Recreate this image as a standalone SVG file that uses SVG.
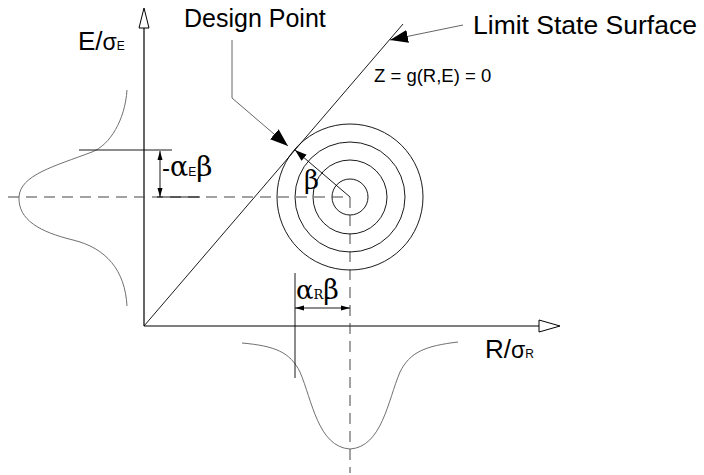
<svg xmlns="http://www.w3.org/2000/svg" width="704" height="475" viewBox="0 0 704 475">
<style>
.ln{stroke:#000;stroke-width:1.2;fill:none}
.thin{stroke:#000;stroke-width:0.9;fill:none}
.dash{stroke:#444;stroke-width:1;fill:none;stroke-dasharray:11 7}
.dist{stroke:#707070;stroke-width:1;fill:none}
.lead{stroke:#555;stroke-width:0.9;fill:none}
.t{font-family:"Liberation Sans",Arial,sans-serif;fill:#000}
.g{font-family:"DejaVu Serif","Liberation Serif",serif}
</style>
<defs>
<marker id="big" markerUnits="userSpaceOnUse" markerWidth="20" markerHeight="14" refX="18" refY="6.5" orient="auto">
<path d="M0,0 L18,6.5 L0,13 Z" fill="#000"/>
</marker>
<marker id="mid" markerUnits="userSpaceOnUse" markerWidth="14" markerHeight="10" refX="12" refY="4" orient="auto">
<path d="M0,0 L12,4 L0,8 Z" fill="#000"/>
</marker>
<marker id="sm" markerUnits="userSpaceOnUse" markerWidth="10" markerHeight="8" refX="9" refY="3" orient="auto">
<path d="M0,0.5 L9,3 L0,5.5 Z" fill="#000"/>
</marker>
</defs>

<g id="axes">
<line class="ln" x1="144" y1="326" x2="144" y2="28"/>
<path d="M144,8 L149,28 L139,28 Z" fill="#fff" stroke="#000" stroke-width="1"/>
<line class="ln" x1="144" y1="326" x2="539" y2="326"/>
<path d="M560,326 L539,332 L539,320 Z" fill="#fff" stroke="#000" stroke-width="1"/>
<text class="t" x="78" y="50" font-size="26">E/<tspan font-size="23">σ</tspan><tspan font-size="12">E</tspan></text>
<text class="t" x="485" y="358" font-size="26">R/<tspan font-size="23">σ</tspan><tspan font-size="12">R</tspan></text>
</g>

<g id="limit-state">
<line class="thin" x1="144" y1="326" x2="403" y2="24"/>
<text class="t" x="374" y="82" font-size="18.5">Z = g(R,E) = 0</text>
</g>

<g id="circles">
<circle class="thin" cx="350" cy="197" r="18"/>
<circle class="thin" cx="350" cy="197" r="37"/>
<circle class="thin" cx="350" cy="197" r="55"/>
<circle class="thin" cx="350" cy="197" r="73"/>
</g>

<g id="distributions">
<path class="dist" d="M127,90 C125,120 110,145 92,152 C55,166 20,175 19,197 C18,220 40,232 73,240 C106,248 125,270 127,306"/>
<path class="dist" d="M242,343 C275,346 290,352 300,372 C312,400 318,447 350,449 C382,447 388,400 400,372 C410,352 425,346 458,342"/>
</g>

<g id="guides">
<line class="dash" x1="8" y1="197" x2="350" y2="197"/>
<line class="dash" x1="350" y1="197" x2="350" y2="473"/>
<line class="thin" x1="157" y1="197" x2="200" y2="197"/>
<line class="thin" x1="79" y1="150" x2="172" y2="150"/>
<line class="thin" x1="295" y1="273" x2="295" y2="378"/>
</g>

<g id="connectors">
<line class="thin" x1="160" y1="174" x2="160" y2="151" marker-end="url(#sm)"/>
<line class="thin" x1="160" y1="174" x2="160" y2="197" marker-end="url(#sm)"/>
<line class="thin" x1="322" y1="308" x2="295" y2="308" marker-end="url(#sm)"/>
<line class="thin" x1="322" y1="308" x2="350" y2="308" marker-end="url(#sm)"/>
<line class="thin" x1="350" y1="197" x2="295" y2="150" marker-end="url(#mid)"/>
<polyline class="lead" points="232,40 232,98 288,146" marker-end="url(#big)"/>
<line class="lead" x1="463" y1="25" x2="390" y2="40" marker-end="url(#big)"/>
</g>

<g id="labels">
<text class="t" x="184" y="27" font-size="25">Design Point</text>
<text class="t" x="473" y="34" font-size="26.5">Limit State Surface</text>
<text class="t" x="162" y="176" font-size="24">-<tspan class="g" font-size="27">α</tspan><tspan font-size="12">E</tspan><tspan class="g" font-size="28">β</tspan></text>
<text class="t" x="296" y="299"><tspan class="g" font-size="26">α</tspan><tspan class="g" font-size="13">R</tspan><tspan class="g" font-size="27">β</tspan></text>
<text class="g" x="304" y="189" font-size="26">β</text>
</g>
</svg>
